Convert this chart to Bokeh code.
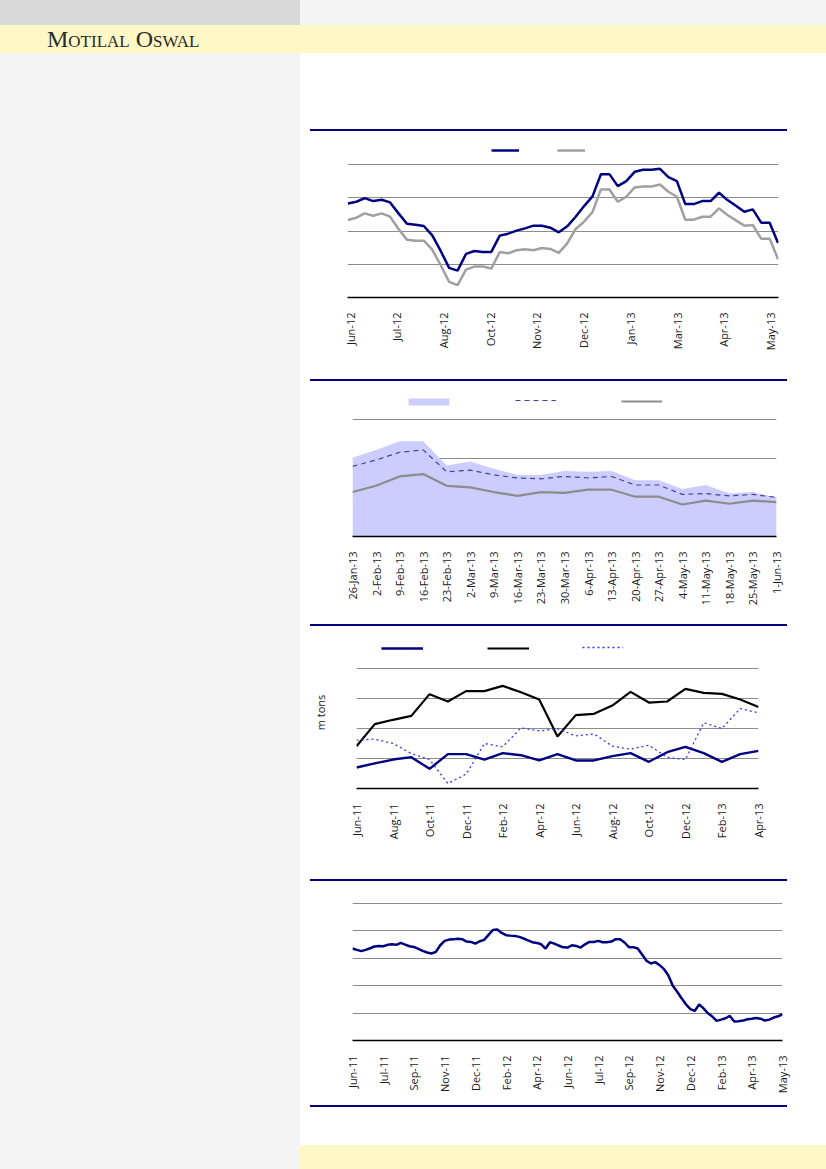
import numpy as np
from bokeh.plotting import figure
from bokeh.models import Range1d, FixedTicker, Legend, LegendItem, Div, Spacer
from bokeh.layouts import column, row
from bokeh.embed import file_html
from bokeh.resources import INLINE

# ---------------- data ----------------
# Chart 1: weekly series (52 weeks, Jun-12 .. May-13)
c1_tick_pos = [0.25, 5.79, 11.33, 16.87, 22.41, 27.95, 33.49, 39.03, 44.57, 50.11]
c1_tick_labels = ["Jun-12", "Jul-12", "Aug-12", "Oct-12", "Nov-12", "Dec-12",
                  "Jan-13", "Mar-13", "Apr-13", "May-13"]
c1_navy = [88.3, 88.8, 89.9, 89.0, 89.4, 88.6, 85.3, 82.2, 81.9, 81.5, 78.7, 74.0, 68.9, 68.1, 73.1, 74.0, 73.7, 73.7,
           78.6, 79.2, 80.1, 80.8, 81.6, 81.6, 81.0, 79.6, 81.4, 84.3, 87.5, 90.4, 97.1, 97.1, 93.5, 95.0, 97.8,
           98.4, 98.4, 98.7, 96.2, 95.0, 88.1, 88.1, 89.0, 89.0, 91.5, 89.3, 87.6, 85.8, 86.5, 82.5, 82.5, 76.4]
c1_gray = [83.3, 84.0, 85.3, 84.6, 85.3, 84.3, 80.6, 77.4, 77.1, 77.1, 74.4, 69.7, 64.7, 63.7, 68.4, 69.3, 69.3, 68.7,
           73.7, 73.3, 74.2, 74.5, 74.2, 74.9, 74.6, 73.4, 76.3, 80.6, 82.8, 85.7, 92.5, 92.5, 88.8, 90.3, 93.1,
           93.4, 93.4, 94.0, 91.8, 90.3, 83.4, 83.4, 84.3, 84.3, 86.8, 84.8, 83.2, 81.6, 81.8, 77.7, 77.7, 71.5]
c1_grid = [70, 80, 90, 100]

# Chart 2: weekly (26-Jan-13 .. 1-Jun-13)
c2_labels = ["26-Jan-13", "2-Feb-13", "9-Feb-13", "16-Feb-13", "23-Feb-13", "2-Mar-13", "9-Mar-13",
             "16-Mar-13", "23-Mar-13", "30-Mar-13", "6-Apr-13", "13-Apr-13", "20-Apr-13", "27-Apr-13",
             "4-May-13", "11-May-13", "18-May-13", "25-May-13", "1-Jun-13"]
c2_area = [10.1, 11.1, 12.2, 12.2, 9.1, 9.6, 8.7, 7.9, 7.9, 8.4, 8.3, 8.4, 7.2, 7.2, 6.1, 6.6, 5.5, 5.7, 5.0]
c2_dash = [9.0, 9.8, 10.8, 11.1, 8.3, 8.5, 7.9, 7.5, 7.4, 7.7, 7.5, 7.7, 6.6, 6.6, 5.4, 5.5, 5.2, 5.4, 5.0]
c2_gray = [5.7, 6.5, 7.7, 8.0, 6.5, 6.3, 5.7, 5.2, 5.7, 5.6, 6.0, 6.0, 5.1, 5.1, 4.1, 4.6, 4.2, 4.6, 4.4]
c2_grid = [5, 10, 15]

# Chart 3: monthly (Jun-11 .. Apr-13), m tons
c3_months = ["Jun-11", "Jul-11", "Aug-11", "Sep-11", "Oct-11", "Nov-11", "Dec-11", "Jan-12", "Feb-12",
             "Mar-12", "Apr-12", "May-12", "Jun-12", "Jul-12", "Aug-12", "Sep-12", "Oct-12", "Nov-12",
             "Dec-12", "Jan-13", "Feb-13", "Mar-13", "Apr-13"]
c3_navy = [1.40, 1.67, 1.93, 2.09, 1.31, 2.29, 2.29, 1.93, 2.36, 2.22, 1.87, 2.29, 1.87, 1.87, 2.16, 2.36,
           1.78, 2.42, 2.78, 2.36, 1.78, 2.29, 2.51]
c3_black = [2.82, 4.29, 4.58, 4.84, 6.29, 5.80, 6.49, 6.49, 6.84, 6.42, 5.93, 3.47, 4.89, 4.98, 5.53, 6.44,
            5.73, 5.80, 6.64, 6.38, 6.31, 5.93, 5.44]
c3_dot = [3.22, 3.29, 3.00, 2.33, 1.93, 0.33, 0.96, 3.00, 2.78, 4.04, 3.84, 3.98, 3.51, 3.64, 2.82, 2.62,
          2.89, 2.07, 1.93, 4.38, 4.00, 5.33, 5.04]
c3_grid = [2, 4, 6, 8]
c3_ylabel = "m tons"

# Chart 4: weekly (Jun-11 .. May-13)
c4_tick_labels = ["Jun-11", "Jul-11", "Sep-11", "Nov-11", "Dec-11", "Feb-12", "Apr-12", "Jun-12",
                  "Jul-12", "Sep-12", "Nov-12", "Dec-12", "Feb-13", "Apr-13", "May-13"]
c4_tick_pos = [0, 7, 14, 21, 28, 35, 42, 49, 56, 63, 70, 77, 84, 91, 98]
c4_values = [66.9, 65.9, 65.0, 65.9, 67.1, 68.4, 68.8, 68.6, 69.6, 70.0, 69.6, 71.0, 69.8, 68.6, 68.1, 66.7,
             65.2, 64.0, 63.3, 64.5, 69.3, 72.5, 73.4, 73.7, 74.0,
             73.7, 72.0, 71.7, 70.5, 72.2, 73.2, 76.8, 80.4, 80.7, 78.3, 76.6, 76.3, 76.1, 75.4, 74.2, 72.9,
             71.5, 71.0, 70.0, 66.9, 71.5, 70.5, 69.1, 67.8,
             67.6, 69.3, 68.8, 67.6, 70.0, 71.7, 71.7, 72.5, 71.5, 71.5, 72.0, 73.7, 73.7, 71.3, 67.9, 67.9,
             66.9, 62.6, 58.0, 56.0, 57.0, 54.8, 51.9, 47.3,
             39.9, 35.5, 30.7, 26.3, 22.9, 21.5, 26.3, 23.4, 19.8, 17.4, 14.3, 15.2, 16.2, 17.9, 13.8, 14.0,
             14.5, 15.5, 15.9, 16.4, 15.9, 14.5, 15.2, 16.7, 17.6, 19.1]
c4_grid = [20, 40, 60, 80, 100]

# ---------------- styles ----------------
FONT = "Open Sans"
NAVY = "#000080"
GRID = "#8c8c8c"
YELLOW = "#fff7c6"
LEFTBG = "#f4f4f4"
TOPGRAY = "#d9d9d9"
COLW = 526
BL, BR = 46, 10   # identical side borders for every chart


def base_fig(frame_w, height, top, bottom, xr, yr, grid):
    p = figure(width=frame_w + BL + BR, height=height, output_backend="svg", toolbar_location=None,
               x_range=Range1d(*xr), y_range=Range1d(*yr),
               min_border_left=BL, min_border_right=BR,
               min_border_top=top, min_border_bottom=bottom, margin=0)
    p.outline_line_color = None
    p.background_fill_color = "white"
    p.border_fill_color = "white"
    p.xgrid.visible = False
    p.yaxis.visible = False
    p.ygrid.ticker = FixedTicker(ticks=grid)
    p.ygrid.grid_line_color = GRID
    p.ygrid.grid_line_width = 1
    ax = p.xaxis[0]
    ax.axis_line_color = "black"
    ax.axis_line_width = 1.5
    ax.major_tick_line_color = None
    ax.minor_tick_line_color = None
    ax.major_label_orientation = np.pi / 2
    ax.major_label_text_font = FONT
    ax.major_label_text_font_size = "11px"
    ax.major_label_text_color = "#1a1a1a"
    ax.major_label_standoff = 9
    return p


def place(p, frame_left):
    # frame_left is measured from the start of the right column (page x 300)
    return row(Spacer(width=frame_left - BL, height=10, margin=0), p, margin=0, spacing=0)


def set_ticks(p, pos, labels):
    p.xaxis.ticker = FixedTicker(ticks=pos)
    p.xaxis.major_label_overrides = {k: v for k, v in zip(pos, labels)}


def legend_item(p, r, x, y, gw, gh):
    lg = Legend(items=[LegendItem(label=" ", renderers=[r])], location=(x, y),
                glyph_width=gw, glyph_height=gh, padding=0, margin=0, spacing=0,
                label_standoff=0, label_width=0, label_height=gh,
                border_line_color=None, background_fill_alpha=0,
                label_text_font_size="5px", label_text_font=FONT)
    p.add_layout(lg)


# ---------------- chart 1 ----------------
# frame x 347..778, y 140..297 (157 px); gridlines every 10 units = 33.25 px
x1 = list(range(len(c1_navy)))
p1 = base_fig(431, 244, 9, 78, (-0.05, 51.05), (60, 60 + 157 / 3.325), c1_grid)
set_ticks(p1, c1_tick_pos, c1_tick_labels)
r1a = p1.line(x1, c1_navy, line_color=NAVY, line_width=2.5)
r1b = p1.line(x1, c1_gray, line_color="#a0a0a0", line_width=2.5)
legend_item(p1, r1a, 144, 141, 28, 12)
legend_item(p1, r1b, 210, 141, 28, 12)

# ---------------- chart 2 ----------------
# frame x 352..776, y 390..536 (146 px); 5 units = 39 px
x2 = list(range(len(c2_labels)))
p2 = base_fig(424, 239, 9, 84, (0, 18), (0, 146 / 7.8), c2_grid)
set_ticks(p2, x2, c2_labels)
r2a = p2.varea(x=x2, y1=0, y2=c2_area, fill_color="#ccccff")
r2b = p2.line(x2, c2_dash, line_color="#44449a", line_width=1.2, line_dash="5 4")
r2c = p2.line(x2, c2_gray, line_color="#8c8c8c", line_width=2.2)
legend_item(p2, r2a, 51, 130, 51, 9)
legend_item(p2, r2b, 163, 130, 41, 12)
legend_item(p2, r2c, 269, 129, 41, 12)

# ---------------- chart 3 ----------------
# frame x 355..758, y 636..788 (152 px); 2 units = 30 px
x3 = list(range(len(c3_months)))
p3 = base_fig(403, 249, 10, 87, (0, 22), (0, 152 / 15), c3_grid)
set_ticks(p3, x3[::2], c3_months[::2])
p3.yaxis.visible = True
ya = p3.yaxis[0]
ya.ticker = FixedTicker(ticks=[])
ya.axis_line_color = None
ya.major_tick_line_color = None
ya.minor_tick_line_color = None
ya.axis_label = c3_ylabel
ya.axis_label_text_font = FONT
ya.axis_label_text_font_size = "11px"
ya.axis_label_text_font_style = "normal"
ya.axis_label_text_color = "#1a1a1a"
ya.axis_label_standoff = 29
r3a = p3.line(x3, c3_navy, line_color=NAVY, line_width=2.4)
r3b = p3.line(x3, c3_black, line_color="black", line_width=2.2)
r3c = p3.line(x3, c3_dot, line_color="#3333ff", line_width=1.3, line_dash="2 3")
legend_item(p3, r3a, 25, 134, 42, 12)
legend_item(p3, r3b, 131, 134, 42, 12)
legend_item(p3, r3c, 226, 135, 41, 12)

# ---------------- chart 4 ----------------
# frame x 352..782, y 902..1040
x4 = list(range(len(c4_values)))
p4 = base_fig(430, 219, 21, 60, (0, 98), (0, 100.4), c4_grid)
set_ticks(p4, c4_tick_pos, c4_tick_labels)
p4.line(x4, c4_values, line_color=NAVY, line_width=2.5)


# ---------------- page layout ----------------
def block(w, h, color):
    return Div(text="", width=w, height=h, margin=0, styles={"background-color": color})


def gap(h):
    return Spacer(width=COLW, height=h, margin=0)


def rule():
    return row(Spacer(width=10, height=2, margin=0), block(477, 2, NAVY), margin=0, spacing=0)


right_col = column(
    gap(76),
    rule(), place(p1, 47),
    gap(4), rule(), place(p2, 52),
    gap(4), rule(), place(p3, 55),
    gap(4), rule(), place(p4, 52),
    gap(5), rule(),
    gap(38),
    block(COLW, 24, YELLOW),
    margin=0, spacing=0,
)

header = Div(
    text='<div style="padding-left:47px; font-family:\'Liberation Serif\'; font-variant:small-caps; '
         'font-size:24px; line-height:28px; color:#2a2a2a; white-space:nowrap;">Motilal Oswal</div>',
    width=826, height=28, margin=0, styles={"background-color": YELLOW})

page = column(
    row(block(300, 25, TOPGRAY), block(COLW, 25, LEFTBG), margin=0, spacing=0),
    header,
    row(block(300, 1116, LEFTBG), right_col, margin=0, spacing=0),
    margin=0, spacing=0,
)

open("out.html", "w").write(file_html(page, INLINE))
